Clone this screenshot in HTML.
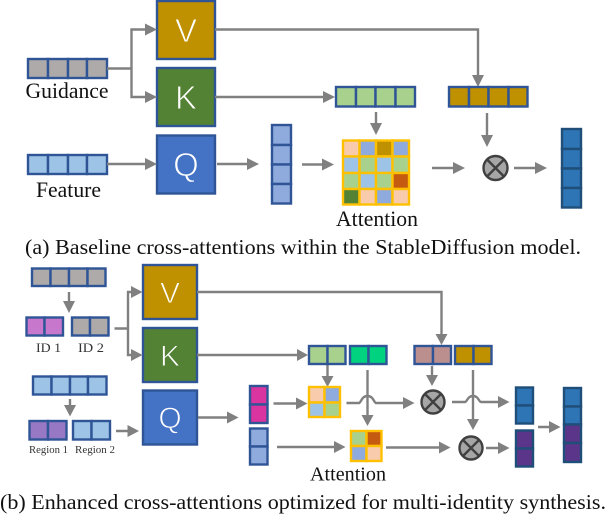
<!DOCTYPE html>
<html><head><meta charset="utf-8"><style>
html,body{margin:0;padding:0;background:#fff}
svg{display:block}
.c{stroke:#2f5597;stroke-width:2.4}
.o{stroke:#1f4e79;stroke-width:2.4}
.a{stroke:#ffc000;stroke-width:2.4}
.l{stroke:#808080;stroke-width:2.4;fill:none}
.h{fill:#808080}
.x{fill:#a6a6a6;stroke:#404040;stroke-width:2.4}
.y{stroke:#404040;stroke-width:2.4}
text{font-family:"Liberation Serif",serif;fill:#111}
.b{font-family:"Liberation Sans",sans-serif;fill:#fff;text-anchor:middle;stroke-width:.9}
</style></head><body>
<svg width="606" height="514" viewBox="0 0 606 514" xmlns="http://www.w3.org/2000/svg">
<!-- TOP -->
<g class="c" fill="#aeaaaa"><rect x="28" y="59" width="20" height="19"/><rect x="48" y="59" width="20" height="19"/><rect x="68" y="59" width="19" height="19"/><rect x="87" y="59" width="20" height="19"/></g>
<g class="c" fill="#9dc3e6"><rect x="28" y="155" width="20" height="19"/><rect x="48" y="155" width="20" height="19"/><rect x="68" y="155" width="19" height="19"/><rect x="87" y="155" width="20" height="19"/></g>
<text x="25.500" y="98" font-size="22" textLength="83" lengthAdjust="spacingAndGlyphs">Guidance</text>
<text x="36" y="197" font-size="22" textLength="65" lengthAdjust="spacingAndGlyphs">Feature</text>
<rect x="157" y="1" width="58" height="58" fill="#bf9000" class="c"/>
<rect x="157" y="68" width="58" height="58" fill="#548235" class="c"/>
<rect x="157" y="135.500" width="58" height="58" fill="#4472c4" class="c"/>
<text class="b" x="186" y="42" font-size="33" stroke="#bf9000">V</text>
<text class="b" x="186" y="109" font-size="33" stroke="#548235">K</text>
<text class="b" x="186" y="176" font-size="33" stroke="#4472c4">Q</text>
<path class="l" d="M107 68.500H131.500M145 29.500H131.500V97H145M107 164H145M217 164H248M215 29.500H478V76M215 97H324M376 112V124M487 113V136M302 164.500H323M432 168H454M514 168H536"/>
<g class="h"><polygon points="145,23.500 157,29.500 145,35.500"/><polygon points="145,91 157,97 145,103"/><polygon points="145,158 157,164 145,170"/><polygon points="247,158 259,164 247,170"/><polygon points="472,75 484,75 478,87"/><polygon points="323,91 335,97 323,103"/><polygon points="370,123 382,123 376,135"/><polygon points="481,135 493,135 487,147"/><polygon points="322,158.500 334,164.500 322,170.500"/><polygon points="453,162 465,168 453,174"/><polygon points="535,162 547,168 535,174"/></g>
<g class="c" fill="#8faadc"><rect x="272" y="125" width="19" height="20"/><rect x="272" y="145" width="19" height="19.500"/><rect x="272" y="164.500" width="19" height="19.500"/><rect x="272" y="184" width="19" height="19.500"/></g>
<g class="c" fill="#a9d18e"><rect x="336" y="87" width="20" height="19.500"/><rect x="356" y="87" width="19.500" height="19.500"/><rect x="375.500" y="87" width="20" height="19.500"/><rect x="395.500" y="87" width="19.500" height="19.500"/></g>
<g class="c" fill="#bf9000"><rect x="449" y="87" width="20" height="19.500"/><rect x="469" y="87" width="19.500" height="19.500"/><rect x="488.500" y="87" width="20" height="19.500"/><rect x="508.500" y="87" width="19" height="19.500"/></g>
<g class="a">
<rect x="343" y="140.500" width="16.500" height="16" fill="#f8cbad"/><rect x="359.500" y="140.500" width="16.500" height="16" fill="#8faadc"/><rect x="376" y="140.500" width="16.500" height="16" fill="#bf9000"/><rect x="392.500" y="140.500" width="16.500" height="16" fill="#8faadc"/>
<rect x="343" y="156.500" width="16.500" height="16.500" fill="#9dc3e6"/><rect x="359.500" y="156.500" width="16.500" height="16.500" fill="#a9d18e"/><rect x="376" y="156.500" width="16.500" height="16.500" fill="#9dc3e6"/><rect x="392.500" y="156.500" width="16.500" height="16.500" fill="#a9d18e"/>
<rect x="343" y="173" width="16.500" height="16" fill="#a9d18e"/><rect x="359.500" y="173" width="16.500" height="16" fill="#9dc3e6"/><rect x="376" y="173" width="16.500" height="16" fill="#a9d18e"/><rect x="392.500" y="173" width="16.500" height="16" fill="#c55a11"/>
<rect x="343" y="189" width="16.500" height="15.500" fill="#548235"/><rect x="359.500" y="189" width="16.500" height="15.500" fill="#f8cbad"/><rect x="376" y="189" width="16.500" height="15.500" fill="#8faadc"/><rect x="392.500" y="189" width="16.500" height="15.500" fill="#f8cbad"/>
</g>
<text x="336" y="226" font-size="22" textLength="82" lengthAdjust="spacingAndGlyphs">Attention</text>
<circle class="x" cx="495.500" cy="168" r="12"/><path class="y" d="M487 159.500L504 176.500M504 159.500L487 176.500"/>
<g class="o" fill="#2e75b6"><rect x="562" y="129" width="19" height="20"/><rect x="562" y="149" width="19" height="19.500"/><rect x="562" y="168.500" width="19" height="19.500"/><rect x="562" y="188" width="19" height="19.500"/></g>
<text x="25" y="254" font-size="21" textLength="556" lengthAdjust="spacingAndGlyphs">(a) Baseline cross-attentions within the StableDiffusion model.</text>
<!-- BOTTOM -->
<g class="c" fill="#aeaaaa"><rect x="32" y="268.500" width="18.500" height="17.500"/><rect x="50.500" y="268.500" width="18.500" height="17.500"/><rect x="69" y="268.500" width="18.500" height="17.500"/><rect x="87.500" y="268.500" width="18" height="17.500"/></g>
<g class="c" fill="#c878cc"><rect x="26.500" y="317.500" width="18" height="18"/><rect x="44.500" y="317.500" width="18.500" height="18"/></g>
<g class="c" fill="#aeaaaa"><rect x="72" y="317.500" width="18" height="18"/><rect x="90" y="317.500" width="18.500" height="18"/></g>
<text x="36" y="352" font-size="13" textLength="25" lengthAdjust="spacingAndGlyphs" style="fill:#333">ID 1</text>
<text x="78" y="352" font-size="13" textLength="26" lengthAdjust="spacingAndGlyphs" style="fill:#333">ID 2</text>
<g class="c" fill="#9dc3e6"><rect x="33" y="376.500" width="18.500" height="18"/><rect x="51.500" y="376.500" width="18.500" height="18"/><rect x="70" y="376.500" width="18" height="18"/><rect x="88" y="376.500" width="18.500" height="18"/></g>
<g class="c" fill="#9678c4"><rect x="29.500" y="421" width="18.500" height="18.500"/><rect x="48" y="421" width="18.500" height="18.500"/></g>
<g class="c" fill="#9dc3e6"><rect x="73" y="421" width="18.500" height="18.500"/><rect x="91.500" y="421" width="18.500" height="18.500"/></g>
<text x="29" y="453" font-size="10" textLength="39" lengthAdjust="spacingAndGlyphs" style="fill:#333">Region 1</text>
<text x="75" y="453" font-size="10" textLength="40" lengthAdjust="spacingAndGlyphs" style="fill:#333">Region 2</text>
<rect x="143" y="265" width="54" height="54" fill="#bf9000" class="c"/>
<rect x="143" y="328" width="54" height="54" fill="#548235" class="c"/>
<rect x="143" y="390.500" width="54" height="54" fill="#4472c4" class="c"/>
<text class="b" x="170" y="303" font-size="30" stroke="#bf9000">V</text>
<text class="b" x="170" y="366" font-size="30" stroke="#548235">K</text>
<text class="b" x="170" y="428" font-size="30" stroke="#4472c4">Q</text>
<path class="l" d="M69 292V302M114.500 328.500H128M132 292H128V355H132M70 399V406M116 431H128M198 417.500H228M197 292H441.500V335M197 355H298M273.500 403.500H297M277 447H335M327.500 364V377M367.500 370V416M346.500 403H359C361 403 361.500 396 367.500 396C373.500 396 374 403 376 403H404M432 366V376M386 447.500H440M473 370V420M452 402H465C467 402 467.500 396 473 396C478.500 396 479 402 481 402H499M486 448H499M538 427H550"/>
<g class="h"><polygon points="63,301 75,301 69,313"/><polygon points="131,286 142.500,292 131,298"/><polygon points="131,349 142.500,355 131,361"/><polygon points="64,405 76,405 70,416.500"/><polygon points="127.500,425 139,431 127.500,437"/><polygon points="227,411.500 238.500,417.500 227,423.500"/><polygon points="435.500,334 447.500,334 441.500,345"/><polygon points="297,349 308,355 297,361"/><polygon points="296,397.500 307.500,403.500 296,409.500"/><polygon points="334,441 345.500,447 334,453"/><polygon points="321.500,376 333.500,376 327.500,387"/><polygon points="361.500,415 373.500,415 367.500,426"/><polygon points="403,397 414.500,403 403,409"/><polygon points="426,375 438,375 432,386"/><polygon points="439,441.500 450.500,447.500 439,453.500"/><polygon points="467,419 479,419 473,430"/><polygon points="498,396 509.500,402 498,408"/><polygon points="498,442 509.500,448 498,454"/><polygon points="549,421 560.500,427 549,433"/></g>
<g class="c" fill="#d9349f"><rect x="250" y="386" width="17.500" height="18.500"/><rect x="250" y="404.500" width="17.500" height="18.500"/></g>
<g class="c" fill="#8faadc"><rect x="250" y="428.500" width="17.500" height="18"/><rect x="250" y="446.500" width="17.500" height="18"/></g>
<g class="c" fill="#a9d18e"><rect x="309" y="346" width="18.500" height="18"/><rect x="327.500" y="346" width="18" height="18"/></g>
<g class="c" fill="#00d27f"><rect x="350" y="346" width="18.500" height="18"/><rect x="368.500" y="346" width="18" height="18"/></g>
<g class="c" fill="#bc8f8f"><rect x="414.500" y="346" width="18.500" height="18"/><rect x="433" y="346" width="18" height="18"/></g>
<g class="c" fill="#bf9000"><rect x="455" y="346" width="18.500" height="18"/><rect x="473.500" y="346" width="18" height="18"/></g>
<g class="a"><rect x="309" y="387" width="15.500" height="15.500" fill="#f8cbad"/><rect x="324.500" y="387" width="15.500" height="15.500" fill="#8faadc"/><rect x="309" y="402.500" width="15.500" height="14.500" fill="#9dc3e6"/><rect x="324.500" y="402.500" width="15.500" height="14.500" fill="#a9d18e"/></g>
<g class="a"><rect x="351" y="431" width="15.500" height="15" fill="#a9d18e"/><rect x="366.500" y="431" width="15" height="15" fill="#c55a11"/><rect x="351" y="446" width="15.500" height="15" fill="#8faadc"/><rect x="366.500" y="446" width="15" height="15" fill="#f8cbad"/></g>
<text x="310" y="480.500" font-size="20" textLength="76" lengthAdjust="spacingAndGlyphs">Attention</text>
<circle class="x" cx="433" cy="402" r="11.500"/><path class="y" d="M425 394L441 410M441 394L425 410"/>
<circle class="x" cx="471" cy="448" r="11.500"/><path class="y" d="M463 440L479 456M479 440L463 456"/>
<g class="o" fill="#2e75b6"><rect x="516" y="387.500" width="17" height="18"/><rect x="516" y="405.500" width="17" height="18"/></g>
<g class="o" fill="#5b3589"><rect x="516" y="430.500" width="17" height="18"/><rect x="516" y="448.500" width="17" height="18"/></g>
<g class="o"><rect x="564" y="388" width="17" height="18.500" fill="#2e75b6"/><rect x="564" y="406.500" width="17" height="18" fill="#2e75b6"/><rect x="564" y="424.500" width="17" height="18.500" fill="#5b3589"/><rect x="564" y="443" width="17" height="19" fill="#5b3589"/></g>
<text x="0" y="509" font-size="21" textLength="606" lengthAdjust="spacingAndGlyphs">(b) Enhanced cross-attentions optimized for multi-identity synthesis.</text>
</svg>
</body></html>
